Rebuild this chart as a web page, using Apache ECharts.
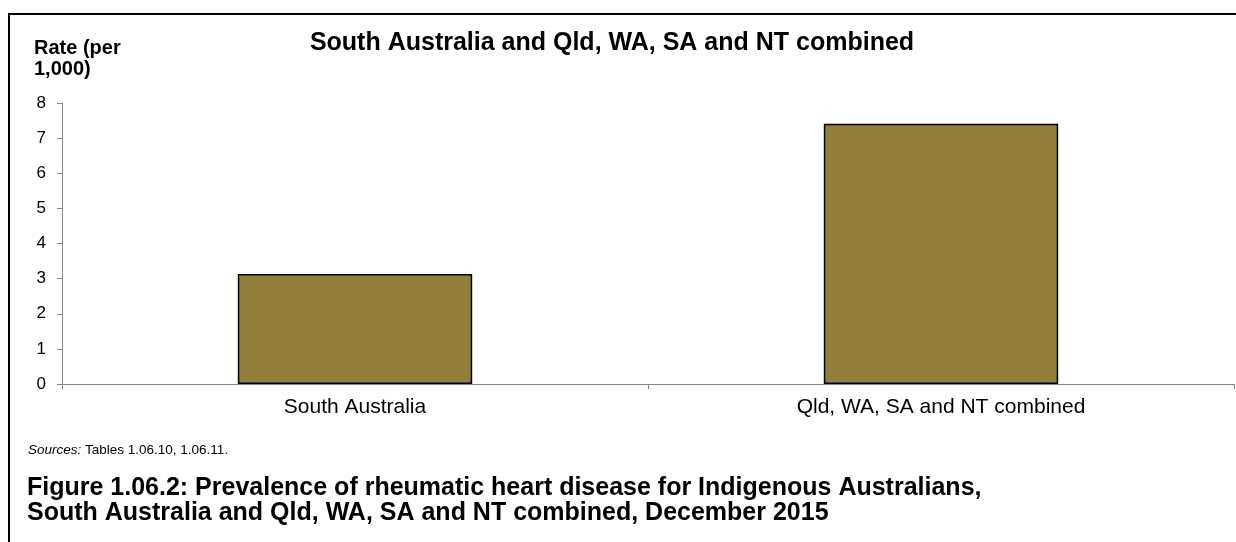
<!DOCTYPE html>
<html><head><meta charset="utf-8">
<script src="https://cdn.jsdelivr.net/npm/echarts@6/dist/echarts.min.js"></script>
<style>html,body{margin:0;padding:0;background:#fff}#c{width:1236px;height:542px}</style>
</head><body><div id="c"></div>
<script>
const categories = ['South Australia', 'Qld, WA, SA and NT combined'];
const rates = [3.13, 7.41];
const yTicks = [0, 1, 2, 3, 4, 5, 6, 7, 8];

const chart = echarts.init(document.getElementById('c'), null, {renderer: 'canvas'});
const F = '"Liberation Sans", Arial, sans-serif';
chart.setOption({
  animation: false,
  backgroundColor: '#fff',
  title: {
    text: 'South Australia and Qld, WA, SA and NT combined',
    left: 607, top: 26, textAlign: 'center',
    textStyle: {fontFamily: F, fontSize: 25, fontWeight: 'bold', color: '#000'}
  },
  grid: {left: 62, right: 2, top: 103, bottom: 158, containLabel: false},
  xAxis: {
    type: 'category', data: categories,
    axisLine: {lineStyle: {color: '#868686', width: 1}},
    axisTick: {show: true, length: 5, lineStyle: {color: '#868686'}},
    axisLabel: {fontFamily: F, fontSize: 21, color: '#000', margin: 13}
  },
  yAxis: {
    type: 'value', min: yTicks[0], max: yTicks[yTicks.length - 1], interval: 1,
    name: 'Rate (per\n1,000)', nameLocation: 'end', nameGap: 0,
    nameTextStyle: {fontFamily: F, fontSize: 20, fontWeight: 'bold', color: '#000', align: 'left', verticalAlign: 'bottom', padding: [0, 0, 15, -28], lineHeight: 21},
    axisLine: {show: true, lineStyle: {color: '#868686'}},
    axisTick: {show: true, length: 5, lineStyle: {color: '#868686'}},
    splitLine: {show: false},
    axisLabel: {fontFamily: F, fontSize: 17, color: '#000', margin: 16}
  },
  series: [{
    type: 'bar', data: rates, barWidth: '40%',
    itemStyle: {color: '#937f3c', borderColor: '#000', borderWidth: 1.5}
  }],
  graphic: [
    {type: 'line', shape: {x1: 8, y1: 14, x2: 1236, y2: 14}, style: {stroke: '#000', lineWidth: 2}},
    {type: 'line', shape: {x1: 9, y1: 13, x2: 9, y2: 542}, style: {stroke: '#000', lineWidth: 2}},
    {type: 'text', left: 28, top: 443, style: {text: '{i|Sources:} Tables 1.06.10, 1.06.11.', rich: {i: {fontStyle: 'italic', fontFamily: F, fontSize: 13.5, fill: '#000'}}, font: '13.5px ' + F, fill: '#000'}},
    {type: 'text', left: 27, top: 476, style: {text: 'Figure 1.06.2: Prevalence of rheumatic heart disease for Indigenous Australians,\nSouth Australia and Qld, WA, SA and NT combined, December 2015', font: 'bold 25px ' + F, fill: '#000', lineHeight: 25}}
  ]
});
</script></body></html>
